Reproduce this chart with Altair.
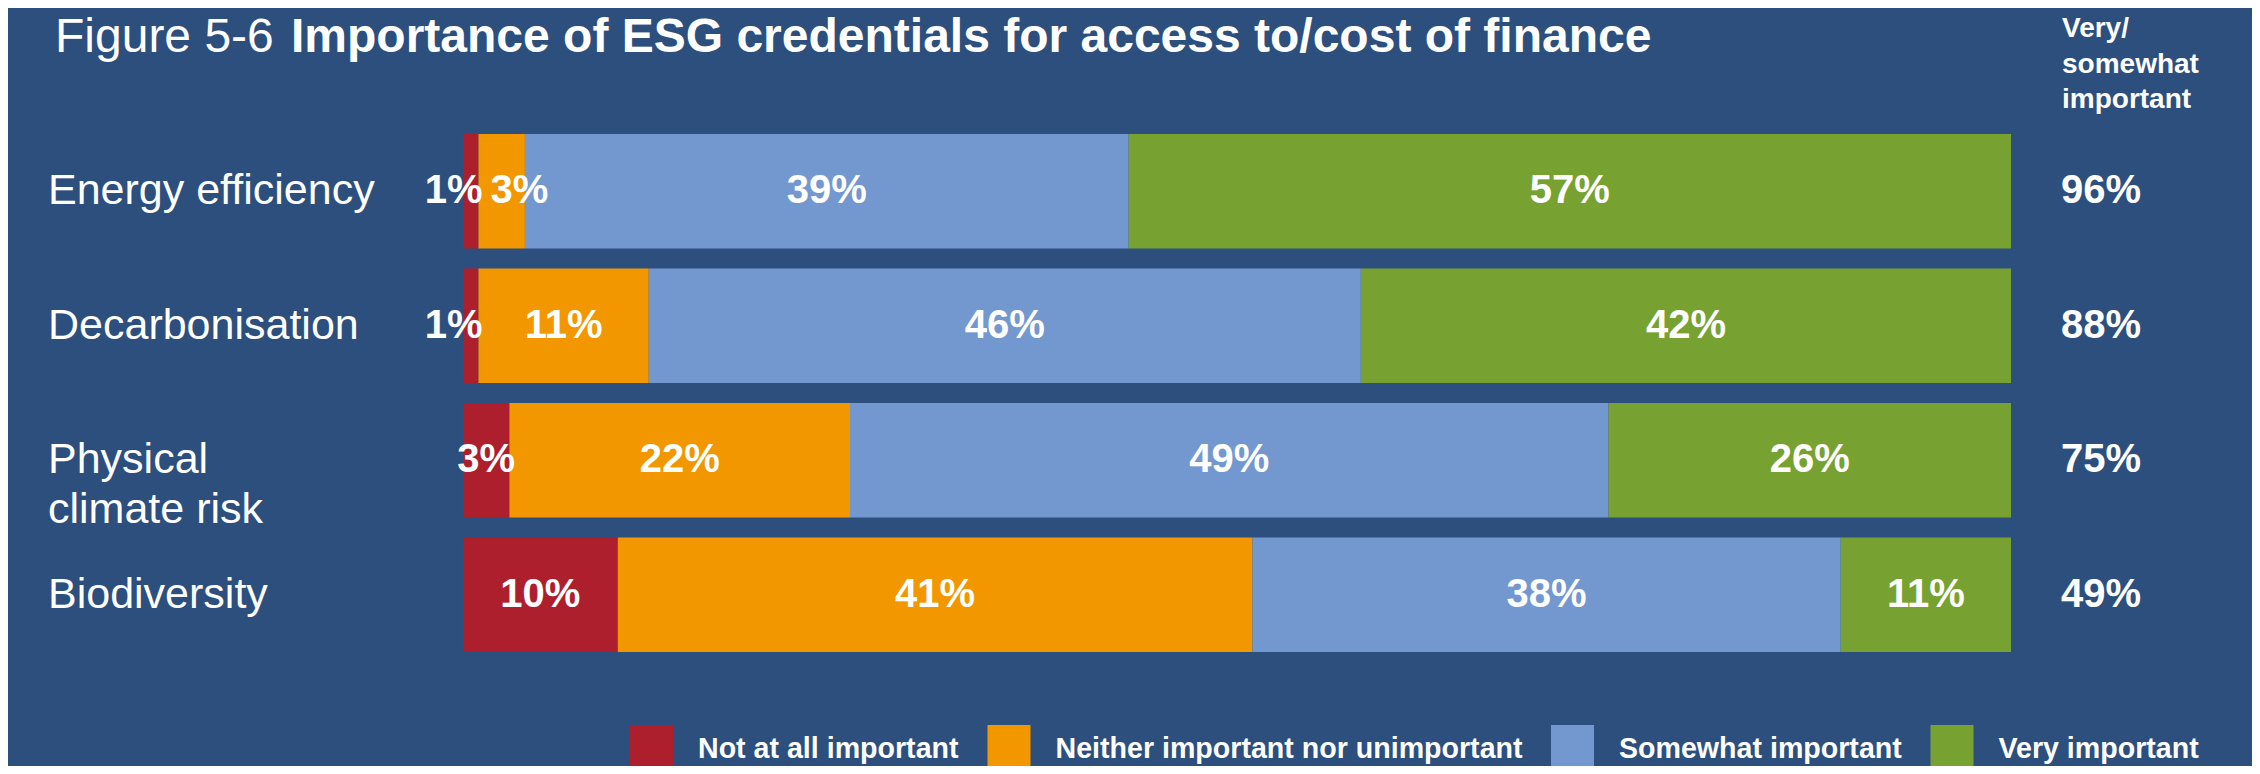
import altair as alt
import pandas as pd

categories = ["Energy efficiency", "Decarbonisation", "Physical climate risk", "Biodiversity"]
category_labels = ["Energy efficiency", "Decarbonisation", "Physical\nclimate risk", "Biodiversity"]
levels = ["Not at all important", "Neither important nor unimportant", "Somewhat important", "Very important"]
not_at_all = [1, 1, 3, 10]
neither = [3, 11, 22, 41]
somewhat = [39, 46, 49, 38]
very = [57, 42, 26, 11]
very_or_somewhat = [96, 88, 75, 49]
colors = ["#AD1F2D", "#F29700", "#7397CF", "#77A231"]
bg = "#2C4F7E"
FONT = "Liberation Sans"

rows = []
for i, c in enumerate(categories):
    for j, (lvl, vals) in enumerate(zip(levels, [not_at_all, neither, somewhat, very])):
        rows.append({"cat": c, "level": lvl, "order": j, "value": vals[i]})
df = pd.DataFrame(rows)
df_cat = pd.DataFrame({"cat": categories, "label": category_labels, "total": very_or_somewhat})
one = pd.DataFrame({"a": [0]})

xscale = alt.Scale(domain=[0, 100], range=[455, 2003], nice=False, zero=False)
yscale = alt.Scale(domain=categories, range=[126, 644], paddingInner=0.148, paddingOuter=0)
Y = alt.Y("cat:N", scale=yscale, axis=None)

base = alt.Chart(df).transform_stack(
    stack="value", groupby=["cat"], as_=["x0", "x1"],
    sort=[alt.SortField("order", order="ascending")]
).transform_calculate(mid="(datum.x0 + datum.x1) / 2", txt="datum.value + '%'")

bars = base.mark_bar(strokeWidth=0).encode(
    x=alt.X("x0:Q", scale=xscale, axis=None),
    x2="x1:Q",
    y=Y,
    color=alt.Color(
        "level:N",
        scale=alt.Scale(domain=levels, range=colors),
        legend=alt.Legend(
            orient="none", legendX=619.5, legendY=717, direction="horizontal", title=None,
            symbolType="M-0.896,-1H0.896V1H-0.896Z", symbolSize=2304, symbolStrokeWidth=0,
            symbolOpacity=1, labelFontSize=28.6, labelFont=FONT, labelFontWeight="bold",
            labelColor="white", labelOffset=22.5, columnPadding=25.5, padding=0, labelLimit=1000,
        ),
    ),
)

txt_style = dict(color="white", font=FONT, fontSize=40, fontWeight="bold", baseline="middle")

mid_labels = base.transform_filter(
    "datum.value >= 3 && !(datum.order > 0 && datum.value < 5)"
).mark_text(align="center", **txt_style).encode(
    x=alt.X("mid:Q", scale=xscale, axis=None), y=Y, text="txt:N"
)
right_labels = base.transform_filter("datum.value < 3").mark_text(
    align="right", dx=4, **txt_style
).encode(x=alt.X("x1:Q", scale=xscale, axis=None), y=Y, text="txt:N")
left_labels = base.transform_filter("datum.order > 0 && datum.value < 5").mark_text(
    align="left", dx=12, **txt_style
).encode(x=alt.X("x0:Q", scale=xscale, axis=None), y=Y, text="txt:N")

cat_text = alt.Chart(df_cat).mark_text(
    align="left", baseline="middle", color="white", font=FONT, fontSize=43,
    lineBreak="\n", lineHeight=50
).encode(x=alt.value(40), y=Y, text="label:N")

total_text = alt.Chart(df_cat).transform_calculate(t="datum.total + '%'").mark_text(
    align="left", **txt_style
).encode(x=alt.value(2053), y=Y, text="t:N")

header = alt.Chart(one).mark_text(
    align="left", baseline="alphabetic", color="white", font=FONT, fontSize=28,
    fontWeight="bold", lineBreak="\n", lineHeight=35.5
).encode(x=alt.value(2054), y=alt.value(29), text=alt.value("Very/\nsomewhat\nimportant"))

title1 = alt.Chart(one).mark_text(
    align="left", baseline="alphabetic", color="white", font=FONT, fontSize=48
).encode(x=alt.value(47), y=alt.value(44), text=alt.value("Figure 5-6"))
title2 = alt.Chart(one).mark_text(
    align="left", baseline="alphabetic", color="white", font=FONT, fontSize=48, fontWeight="bold"
).encode(x=alt.value(283), y=alt.value(44),
         text=alt.value("Importance of ESG credentials for access to/cost of finance"))

chart = alt.layer(
    bars, mid_labels, right_labels, left_labels, cat_text, total_text, header, title1, title2
).properties(
    width=2244, height=758, background=bg, padding=0,
    autosize=alt.AutoSizeParams(type="none"),
).configure_view(stroke=None)

chart.save("out.html", embed_options={"renderer": "svg", "actions": False})
